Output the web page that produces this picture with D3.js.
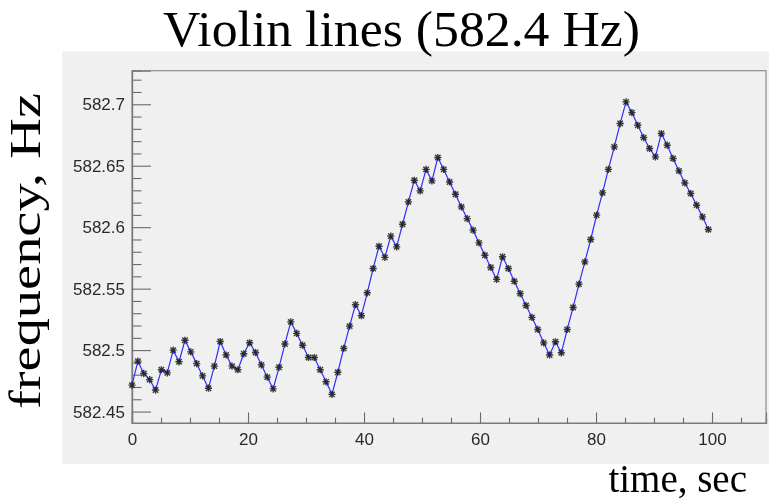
<!DOCTYPE html>
<html>
<head>
<meta charset="utf-8">
<script src="https://cdn.jsdelivr.net/npm/d3@7"></script>
<style>
  html, body { margin: 0; padding: 0; background: #ffffff; }
  svg { display: block; }
</style>
</head>
<body>
<svg id="chart" width="769" height="500"></svg>
<script>
// Violin-line frequency readings (Hz), one per sample
const frequencyHz = [
  582.4715, 582.4910, 582.4810, 582.4760, 582.4675, 582.4840, 582.4815, 582.5000, 582.4905, 582.5080,
  582.4986, 582.4890, 582.4790, 582.4690, 582.4870, 582.5070, 582.4960, 582.4870, 582.4840, 582.4970,
  582.5060, 582.4980, 582.4880, 582.4780, 582.4685, 582.4860, 582.5050, 582.5230, 582.5136, 582.5040,
  582.4940, 582.4940, 582.4840, 582.4742, 582.4640, 582.4820, 582.5014, 582.5195, 582.5370, 582.5280,
  582.5466, 582.5664, 582.5845, 582.5754, 582.5927, 582.5840, 582.6024, 582.6206, 582.6382, 582.6295,
  582.6470, 582.6377, 582.6567, 582.6470, 582.6368, 582.6268, 582.6165, 582.6070, 582.5976, 582.5872,
  582.5772, 582.5672, 582.5575, 582.5759, 582.5664, 582.5560, 582.5460, 582.5363, 582.5266, 582.5168,
  582.5059, 582.4960, 582.5068, 582.4978, 582.5168, 582.5347, 582.5537, 582.5718, 582.5900, 582.6098,
  582.6279, 582.6470, 582.6653, 582.6843, 582.7019, 582.6932, 582.6829, 582.6729, 582.6640, 582.6572,
  582.6762, 582.6667, 582.6559, 582.6458, 582.6360, 582.6274, 582.6179, 582.6084, 582.5981
];
const sampleInterval = 1.014;            // seconds between readings
const xTickValues = [0, 20, 40, 60, 80, 100];
const yTickValues = [582.45, 582.5, 582.55, 582.6, 582.65, 582.7];
const titleText = "Violin lines (582.4 Hz)";
const xAxisTitle = "time, sec";
const yAxisTitle = "frequency, Hz";

const svg = d3.select("#chart");

// pad (grey) and frame geometry
const pad = { x0: 62, y0: 51.5, x1: 769, y1: 464 };
const frame = { left: 132, right: 766, top: 70.7, bottom: 423 };

const points = frequencyHz.map((f, i) => ({ t: i * sampleInterval, f }));
const tMax = d3.max(points, d => d.t);

const x = d3.scaleLinear().domain([0, tMax * 1.1]).range([frame.left, frame.right]);
const y = d3.scaleLinear().domain([582.4407, 582.7273]).range([frame.bottom, frame.top]);

const defs = svg.append("defs");
defs.append("filter").attr("id", "soft")
  .append("feGaussianBlur").attr("stdDeviation", 0.45);

svg.append("rect")
  .attr("x", pad.x0).attr("y", pad.y0)
  .attr("width", pad.x1 - pad.x0).attr("height", pad.y1 - pad.y0)
  .attr("fill", "#f0f0f0");

// frame box
svg.append("rect")
  .attr("x", frame.left).attr("y", frame.top)
  .attr("width", frame.right - frame.left).attr("height", frame.bottom - frame.top)
  .attr("fill", "none").attr("stroke", "#8e8e8e").attr("stroke-width", 1.2);

const tickColor = "#6a6a6a";
const labelFont = "'Liberation Sans', Arial, sans-serif";

// x axis: major and minor ticks pointing into the frame
const xMinor = d3.range(0, tMax * 1.1, 5).filter(v => !xTickValues.includes(v));
const gxMinor = svg.append("g").attr("transform", `translate(0,${frame.bottom})`)
  .call(d3.axisBottom(x).tickValues(xMinor).tickSize(-5.3).tickFormat(""));
const gx = svg.append("g").attr("transform", `translate(0,${frame.bottom})`)
  .call(d3.axisBottom(x).tickValues(xTickValues).tickSize(-10.6).tickPadding(10).tickFormat(d3.format("d")));

// y axis
const yMinor = d3.range(582.45, 582.7275, 0.01).map(v => +v.toFixed(2))
  .filter(v => !yTickValues.some(t => Math.abs(t - v) < 1e-6));
const gyMinor = svg.append("g").attr("transform", `translate(${frame.left},0)`)
  .call(d3.axisLeft(y).tickValues(yMinor).tickSize(-9.5).tickFormat(""));
const gy = svg.append("g").attr("transform", `translate(${frame.left},0)`)
  .call(d3.axisLeft(y).tickValues(yTickValues).tickSize(-19).tickPadding(7).tickFormat(d => String(+d.toFixed(2))));

[gx, gxMinor, gy, gyMinor].forEach(g => {
  g.select(".domain").attr("stroke", "#7a7a7a").attr("stroke-width", 1.2);
  g.selectAll(".tick line").attr("stroke", tickColor).attr("stroke-width", 1.1);
  g.selectAll(".tick text")
    .attr("fill", "#2a2a2a")
    .attr("font-family", labelFont)
    .attr("font-size", 17)
    .attr("filter", "url(#soft)");
});

// data line
const line = d3.line().x(d => x(d.t)).y(d => y(d.f));
svg.append("path")
  .datum(points)
  .attr("d", line)
  .attr("fill", "none")
  .attr("stroke", "#2e2eff")
  .attr("stroke-width", 1.2);

// asterisk markers
const r = 3.6, rd = 2.7;
const star = `M${-r},0L${r},0M0,${-r}L0,${r}M${-rd},${-rd}L${rd},${rd}M${-rd},${rd}L${rd},${-rd}`;
svg.append("g").attr("filter", "url(#soft)").selectAll("path")
  .data(points)
  .join("path")
  .attr("transform", d => `translate(${x(d.t)},${y(d.f)})`)
  .attr("d", star)
  .attr("stroke", "#1a1a1a")
  .attr("stroke-width", 1.4)
  .attr("stroke-opacity", 0.85);

// titles
const serif = "'Liberation Serif', 'DejaVu Serif', serif";
svg.append("text")
  .attr("x", 401.5).attr("y", 46)
  .attr("text-anchor", "middle")
  .attr("font-family", serif).attr("font-size", 50)
  .attr("textLength", 477).attr("lengthAdjust", "spacingAndGlyphs")
  .attr("fill", "#000")
  .text(titleText);

svg.append("text")
  .attr("x", 747).attr("y", 492)
  .attr("text-anchor", "end")
  .attr("font-family", serif).attr("font-size", 39)
  .attr("fill", "#000")
  .text(xAxisTitle);

svg.append("text")
  .attr("transform", "translate(40,251) rotate(-90)")
  .attr("text-anchor", "middle")
  .attr("font-family", serif).attr("font-size", 44)
  .attr("textLength", 316).attr("lengthAdjust", "spacingAndGlyphs")
  .attr("fill", "#000")
  .text(yAxisTitle);
</script>
</body>
</html>
